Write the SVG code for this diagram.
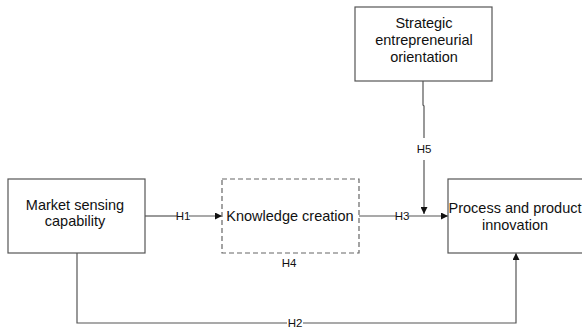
<svg xmlns="http://www.w3.org/2000/svg" width="582" height="329" viewBox="0 0 582 329">
<defs>
<style>
.box{fill:#fff;stroke:#555;stroke-width:1.2}
.dash{fill:#fff;stroke:#666;stroke-width:1.2;stroke-dasharray:5,3}
.t{font-family:"Liberation Sans",Arial,sans-serif;font-size:14.5px;fill:#111;text-anchor:middle}
.h{font-family:"Liberation Sans",Arial,sans-serif;font-size:11.5px;fill:#111;text-anchor:middle}
.c{fill:none;stroke:#555;stroke-width:1.2}
</style>
<marker id="ah" viewBox="0 0 10 10" refX="10" refY="5" markerWidth="7" markerHeight="7" markerUnits="userSpaceOnUse" orient="auto">
<path d="M0,0 L10,5 L0,10 z" fill="#111"/>
</marker>
</defs>
<rect width="582" height="329" fill="#fff"/>
<g id="connectors">
<line class="c" x1="145" y1="216" x2="177" y2="216"/>
<line class="c" x1="189" y1="216" x2="222" y2="216" marker-end="url(#ah)"/>
<line class="c" x1="359" y1="216" x2="396" y2="216"/>
<line class="c" x1="408" y1="216" x2="448" y2="216" marker-end="url(#ah)"/>
<polyline class="c" points="423,81 423,105 424,106 424,138"/>
<line class="c" x1="424" y1="160" x2="424" y2="214" marker-end="url(#ah)"/>
<polyline class="c" points="77,253 77,323 287,323"/>
<polyline class="c" points="303,323 516,323 516,253" marker-end="url(#ah)"/>
<text class="h" x="183" y="220">H1</text>
<text class="h" x="402" y="220">H3</text>
<text class="h" x="289" y="267">H4</text>
<text class="h" x="424" y="153">H5</text>
<text class="h" x="295" y="327">H2</text>
</g>
<g id="market">
<rect class="box" x="8" y="179" width="137" height="74"/>
<text class="t" x="75" y="210">Market sensing</text>
<text class="t" x="75" y="226">capability</text>
</g>
<g id="knowledge">
<rect class="dash" x="222" y="179" width="137" height="74"/>
<text class="t" x="290" y="221">Knowledge creation</text>
</g>
<g id="strategic">
<rect class="box" x="355" y="7" width="137" height="74"/>
<text class="t" x="424" y="28">Strategic</text>
<text class="t" x="424" y="45">entrepreneurial</text>
<text class="t" x="424" y="62">orientation</text>
</g>
<g id="process">
<rect class="box" x="448" y="179" width="140" height="74"/>
<text class="t" x="515" y="213">Process and product</text>
<text class="t" x="515" y="230">innovation</text>
</g>
</svg>
